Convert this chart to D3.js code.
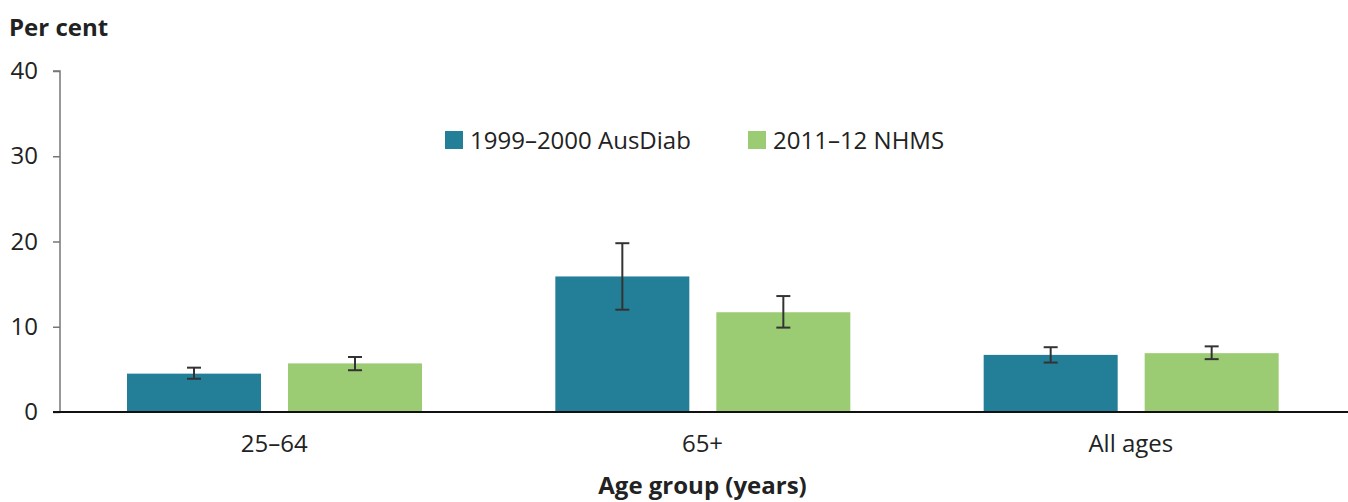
<!DOCTYPE html>
<html><head><meta charset="utf-8">
<script src="https://cdn.jsdelivr.net/npm/d3@7"></script>
<style>body{margin:0;background:#fff;}svg{display:block;font-family:"Open Sans",sans-serif;}</style>
</head><body><svg id="c" width="1348" height="502"></svg>
<script>
const categories = ["25–64", "65+", "All ages"];
const seriesNames = ["1999–2000 AusDiab", "2011–12 NHMS"];
const ausdiab = [4.5, 15.9, 6.7];
const ausdiabLow = [3.9, 12.0, 5.8];
const ausdiabHigh = [5.2, 19.8, 7.6];
const nhms = [5.7, 11.7, 6.9];
const nhmsLow = [4.9, 9.9, 6.2];
const nhmsHigh = [6.45, 13.6, 7.7];
const yTicks = [0, 10, 20, 30, 40];
const colors = ["#237f97", "#9bcb72"];

const svg = d3.select("#c");
const x0 = 60, x1 = 1345, yTop = 71, yBot = 412;
const y = d3.scaleLinear().domain([0, 40]).range([yBot, yTop]);
const x = d3.scaleBand().domain(categories).range([x0, x1]).paddingInner(0).paddingOuter(0);

const data = [];
categories.forEach((c, i) => {
  data.push({c, s: seriesNames[0], v: ausdiab[i], lo: ausdiabLow[i], hi: ausdiabHigh[i], col: colors[0]});
  data.push({c, s: seriesNames[1], v: nhms[i], lo: nhmsLow[i], hi: nhmsHigh[i], col: colors[1]});
});

const bw = 134;
const bx = d => x(d.c) + (d.s === seriesNames[0] ? 67 : 67 + bw + 27);
svg.selectAll("rect.bar").data(data).enter().append("rect")
  .attr("x", bx).attr("width", bw)
  .attr("y", d => y(d.v)).attr("height", d => y(0) - y(d.v))
  .attr("fill", d => d.col);

// error bars
const eb = svg.append("g").attr("stroke", "#333").attr("stroke-width", 2);
data.forEach(d => {
  const cx = bx(d) + bw / 2;
  eb.append("line").attr("x1", cx).attr("x2", cx).attr("y1", y(d.hi)).attr("y2", y(d.lo));
  eb.append("line").attr("x1", cx - 7).attr("x2", cx + 7).attr("y1", y(d.hi)).attr("y2", y(d.hi));
  eb.append("line").attr("x1", cx - 7).attr("x2", cx + 7).attr("y1", y(d.lo)).attr("y2", y(d.lo));
});

// y axis
const ya = svg.append("g").attr("transform", `translate(${x0},0)`)
  .call(d3.axisLeft(y).tickValues(yTicks).tickSize(7).tickPadding(15).tickFormat(d3.format("d")));
ya.select(".domain").attr("stroke", "#777").attr("stroke-width", 1.5).attr("d", `M-7,${yTop}H0V${yBot}`);
ya.selectAll(".tick line").attr("stroke", "#777").attr("stroke-width", 1.5);
ya.selectAll(".tick text").attr("font-size", 24).attr("fill", "#222").attr("font-family", "Open Sans");

// baseline
svg.append("line").attr("x1", 53).attr("x2", 1348).attr("y1", yBot).attr("y2", yBot)
  .attr("stroke", "#111").attr("stroke-width", 2);

// x labels
svg.selectAll("text.xl").data(categories).enter().append("text")
  .attr("x", d => x(d) + x.bandwidth() / 2).attr("y", 452)
  .attr("text-anchor", "middle").attr("font-size", 24).attr("fill", "#222").text(d => d);

// titles
svg.append("text").attr("x", 9).attr("y", 36).attr("font-size", 24).attr("font-weight", "bold").attr("fill", "#222").text("Per cent");
svg.append("text").attr("x", (x0 + x1) / 2).attr("y", 494).attr("text-anchor", "middle").attr("font-size", 24).attr("font-weight", "bold").attr("fill", "#222").text("Age group (years)");

// legend
const legX = [445, 748];
seriesNames.forEach((s, i) => {
  svg.append("rect").attr("x", legX[i]).attr("y", 131).attr("width", 18).attr("height", 18).attr("fill", colors[i]);
  svg.append("text").attr("x", legX[i] + 25).attr("y", 149).attr("font-size", 24).attr("fill", "#222").text(s);
});
</script></body></html>
